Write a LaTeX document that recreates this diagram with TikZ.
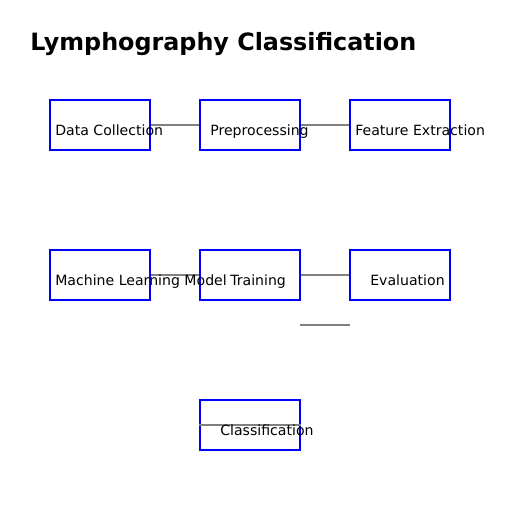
\documentclass[tikz,border=0pt]{standalone}
\usepackage{fontspec}
\setmainfont{DejaVu Sans}

\tikzset{
  stagebox/.style={draw=blue,line width=1pt,minimum width=72pt,minimum height=36pt,inner sep=0pt},
  stagetext/.style={anchor=base west,inner sep=0pt,font=\fontsize{10.15}{12}\selectfont},
  link/.style={draw=gray,line width=1pt}
}

\begin{document}
\begin{tikzpicture}[x=0.72pt,y=-0.72pt]
\useasboundingbox (0,0) rectangle (512,512);
\node[anchor=base west,inner sep=0pt,font=\fontsize{17.15}{20}\selectfont\bfseries] (title) at (30,50.5) {Lymphography Classification};
% boxes
\foreach \name/\x/\y in {collect/100/125, prep/250/125, feat/400/125,%
   model/100/275, train/250/275, eval/400/275,%
   classif/250/425}
    \node[stagebox] (\name) at (\x,\y) {};
% connectors
\coordinate (gapa) at (300,325);
\coordinate (gapb) at (350,325);
\draw[link] (collect.east) -- (prep.west);
\draw[link] (prep.east) -- (feat.west);
\draw[link] (model.east) -- (train.west);
\draw[link] (train.east) -- (eval.west);
\draw[link] (gapa) -- (gapb);
\draw[link] (classif.west) -- (classif.east);
% labels
\node[stagetext] (tcollect) at (55,135.5) {Data Collection};
\node[stagetext] (tprep) at (210,135.5) {Preprocessing};
\node[stagetext] (tfeat) at (355,135.5) {Feature Extraction};
\node[stagetext] (tmodel) at (55,285.5) {Machine Learning Model};
\node[stagetext] (ttrain) at (230,285.5) {Training};
\node[stagetext] (teval) at (370,285.5) {Evaluation};
\node[stagetext] (tclassif) at (220,435.5) {Classification};
\end{tikzpicture}
\end{document}
